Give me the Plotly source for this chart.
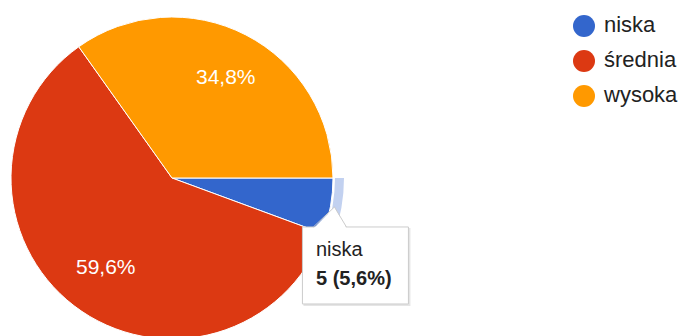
import math
import plotly.graph_objects as go

# Data
labels = ["niska", "średnia", "wysoka"]
counts = [5, 53, 31]
colors = ["#3366cc", "#dc3912", "#ff9900"]
highlight = "#c2d1f0"

W, H = 681, 356          # figure is a bit taller than the window; bottom gets clipped
FONT = "Liberation Sans, Arial, sans-serif"


def px(x):
    return x / W


def py(y):
    return 1 - y / H


total = sum(counts)
fracs = [c / total for c in counts]


def pct(f):
    return f"{f * 100:.1f}".replace(".", ",") + "%"


# pie geometry (pixels from the top-left corner)
cx, cy, R = 172, 178, 161
ring_in, ring_out = 163, 172
START = 90  # first slice starts at 3 o'clock, clockwise

fig = go.Figure()

# hover highlight ring around the first slice
fig.add_trace(go.Pie(
    labels=labels, values=counts, sort=False, direction="clockwise", rotation=START,
    hole=ring_in / ring_out,
    marker=dict(colors=[highlight, "rgba(0,0,0,0)", "rgba(0,0,0,0)"], line=dict(width=0)),
    textinfo="none", hoverinfo="skip", showlegend=False,
    domain=dict(x=[px(cx - ring_out), px(cx + ring_out)], y=[py(cy + ring_out), py(cy - ring_out)]),
))

# main pie
fig.add_trace(go.Pie(
    labels=labels, values=counts, sort=False, direction="clockwise", rotation=START,
    marker=dict(colors=colors, line=dict(color="white", width=1)),
    textinfo="none", hoverinfo="skip", showlegend=False,
    domain=dict(x=[px(cx - R), px(cx + R)], y=[py(cy + R), py(cy - R)]),
))

# slice percentage labels (small slices stay unlabeled)
annotations = []
cum = 0.0
mids = []
for f in fracs:
    mids.append(START + 360 * (cum + f / 2))
    cum += f
for f, a in zip(fracs, mids):
    if f < 0.1:
        continue
    r = 0.7 * R
    x = cx + r * math.sin(math.radians(a))
    y = cy - r * math.cos(math.radians(a))
    annotations.append(dict(
        x=px(x + 2), y=py(y - 1), xref="paper", yref="paper", text=pct(f), showarrow=False,
        xanchor="center", yanchor="middle", font=dict(family=FONT, size=21, color="white"),
    ))

# tooltip for the first slice
tip_r = 165
tx = cx + tip_r * math.sin(math.radians(mids[0]))
ty = cy - tip_r * math.cos(math.radians(mids[0]))
bx0, by0 = tx - 32, ty + 20
bx1, by1 = bx0 + 106, by0 + 77

shapes = [
    dict(type="rect", xref="paper", yref="paper", x0=px(bx0 + 1), x1=px(bx1 + 2), y0=py(by0 + 1), y1=py(by1 + 2),
         fillcolor="rgba(0,0,0,0.10)", line=dict(width=0), layer="above"),
    dict(type="rect", xref="paper", yref="paper", x0=px(bx0), x1=px(bx1), y0=py(by0), y1=py(by1),
         fillcolor="white", line=dict(color="#cccccc", width=1), layer="above"),
    dict(type="path", xref="paper", yref="paper",
         path=f"M {px(bx0 + 11)} {py(by0 + 1.5)} L {px(tx)} {py(ty)} L {px(bx0 + 44)} {py(by0 + 1.5)} Z",
         fillcolor="white", line=dict(width=0), layer="above"),
    dict(type="line", xref="paper", yref="paper", x0=px(bx0 + 11), y0=py(by0), x1=px(tx), y1=py(ty),
         line=dict(color="#cccccc", width=1), layer="above"),
    dict(type="line", xref="paper", yref="paper", x0=px(tx), y0=py(ty), x1=px(bx0 + 44), y1=py(by0),
         line=dict(color="#cccccc", width=1), layer="above"),
]

annotations.append(dict(
    x=px(bx0 + 12), y=py(by0 + 22), xref="paper", yref="paper", text=labels[0], showarrow=False,
    xanchor="left", yanchor="middle", font=dict(family=FONT, size=20, color="#222222"),
))
annotations.append(dict(
    x=px(bx0 + 12), y=py(by0 + 51), xref="paper", yref="paper",
    text=f"<b>{counts[0]} ({pct(fracs[0])})</b>", showarrow=False,
    xanchor="left", yanchor="middle", font=dict(family=FONT, size=20, color="#222222"),
))

# legend drawn as a category column on hidden axes (x measured in pixels from the dot centres)
leg_x, leg_top, row_h = 584, 26, 35
text_dx = 20
fig.add_trace(go.Scatter(
    x=[0] * len(labels), y=labels, mode="markers", cliponaxis=False,
    hoverinfo="skip", showlegend=False,
    marker=dict(size=22, color=colors, line=dict(width=0)),
))
fig.add_trace(go.Scatter(
    x=[text_dx] * len(labels), y=labels, mode="text", text=labels,
    textposition="middle right", cliponaxis=False, hoverinfo="skip", showlegend=False,
    textfont=dict(family=FONT, size=22, color="#222222"),
))

fig.update_layout(
    width=W, height=H,
    margin=dict(l=0, r=0, t=0, b=0),
    paper_bgcolor="white", plot_bgcolor="rgba(0,0,0,0)",
    showlegend=False,
    shapes=shapes, annotations=annotations,
    xaxis=dict(visible=False, domain=[px(leg_x), 1], range=[0, W - leg_x], fixedrange=True),
    yaxis=dict(visible=False, type="category", categoryorder="array", categoryarray=labels,
               domain=[py(leg_top + row_h * (len(labels) - 0.5)), py(leg_top - row_h * 0.5)],
               range=[len(labels) - 0.5, -0.5], fixedrange=True),
    font=dict(family=FONT),
)

fig.write_html(
    "out.html",
    config={"displayModeBar": False, "staticPlot": True},
    post_script="document.documentElement.style.overflow='hidden';document.body.style.overflow='hidden';document.body.style.margin='0';",
)
